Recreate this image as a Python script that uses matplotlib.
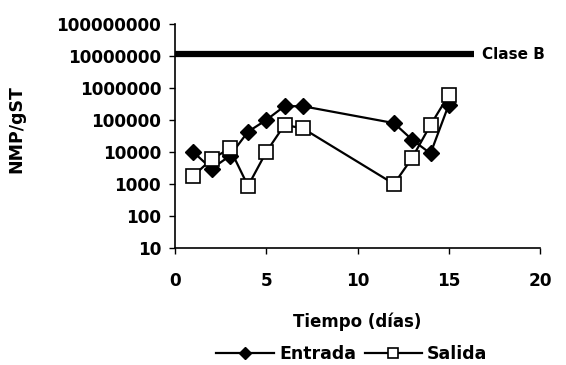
import matplotlib
matplotlib.use("Agg")
import matplotlib.pyplot as plt
from matplotlib.ticker import FixedLocator, NullLocator

# datos
dias_ent = [1, 2, 3, 4, 5, 6, 7, 12, 13, 14, 15]
entrada = [10000, 3000, 7500, 43000, 100000, 270000, 270000, 80000, 24000, 9000, 300000]
dias_sal = [1, 2, 3, 4, 5, 6, 7, 12, 13, 14, 15]
salida = [1800, 5900, 13000, 870, 10000, 70000, 55000, 1000, 6600, 70000, 600000]
clase_b = 1.15e7
clase_b_x = [0, 16.4]

yticks = [10, 100, 1000, 10000, 100000, 1000000, 10000000, 100000000]
xticks = [0, 5, 10, 15, 20]

plt.rcParams["font.family"] = ["DejaVu Sans"]
plt.rcParams["font.weight"] = "bold"

fig = plt.figure(figsize=(5.66, 3.65), dpi=100)
ax = fig.add_axes([175 / 566, 1 - 248 / 365, (540 - 175) / 566, (248 - 24) / 365])

ax.plot(clase_b_x, [clase_b, clase_b], color="black", lw=4.5, solid_capstyle="butt")
ax.text(16.8, clase_b, "Clase B", va="center", ha="left", fontsize=11, fontweight="bold")

ax.plot(dias_ent, entrada, "-", color="black", lw=1.6, marker="D", ms=8,
        mfc="black", mec="black", label="Entrada")
ax.plot(dias_sal, salida, "-", color="black", lw=1.6, marker="s", ms=10,
        mfc="white", mec="black", mew=1.2, label="Salida")

ax.set_yscale("log")
ax.set_ylim(10, 1e8)
ax.set_xlim(0, 20)
ax.yaxis.set_major_locator(FixedLocator(yticks))
ax.yaxis.set_minor_locator(NullLocator())
ax.set_yticklabels([str(v) for v in yticks])
ax.set_xticks(xticks)

for s in ["top", "right"]:
    ax.spines[s].set_visible(False)
for s in ["left", "bottom"]:
    ax.spines[s].set_linewidth(1.2)
ax.tick_params(axis="both", labelsize=12.2, width=1, length=4)
for lab in ax.get_xticklabels() + ax.get_yticklabels():
    lab.set_fontweight("bold")
ax.tick_params(axis="x", pad=13)
ax.tick_params(axis="y", pad=6)

ax.set_xlabel("Tiempo (días)", fontsize=12, fontweight="bold")
ax.xaxis.set_label_coords(0.5, -0.29)
ax.set_ylabel("NMP/gST", fontsize=12.5, fontweight="bold")
ax.yaxis.set_label_coords(-0.41, 0.53)

leg = fig.legend(loc="center", bbox_to_anchor=(352 / 566, 1 - 354 / 365), ncol=2,
                 frameon=False, fontsize=12.5, handlelength=3.3, columnspacing=0.5,
                 handletextpad=0.3, markerscale=0.75)
for t in leg.get_texts():
    t.set_fontweight("bold")

fig.savefig("out.png", dpi=100)
